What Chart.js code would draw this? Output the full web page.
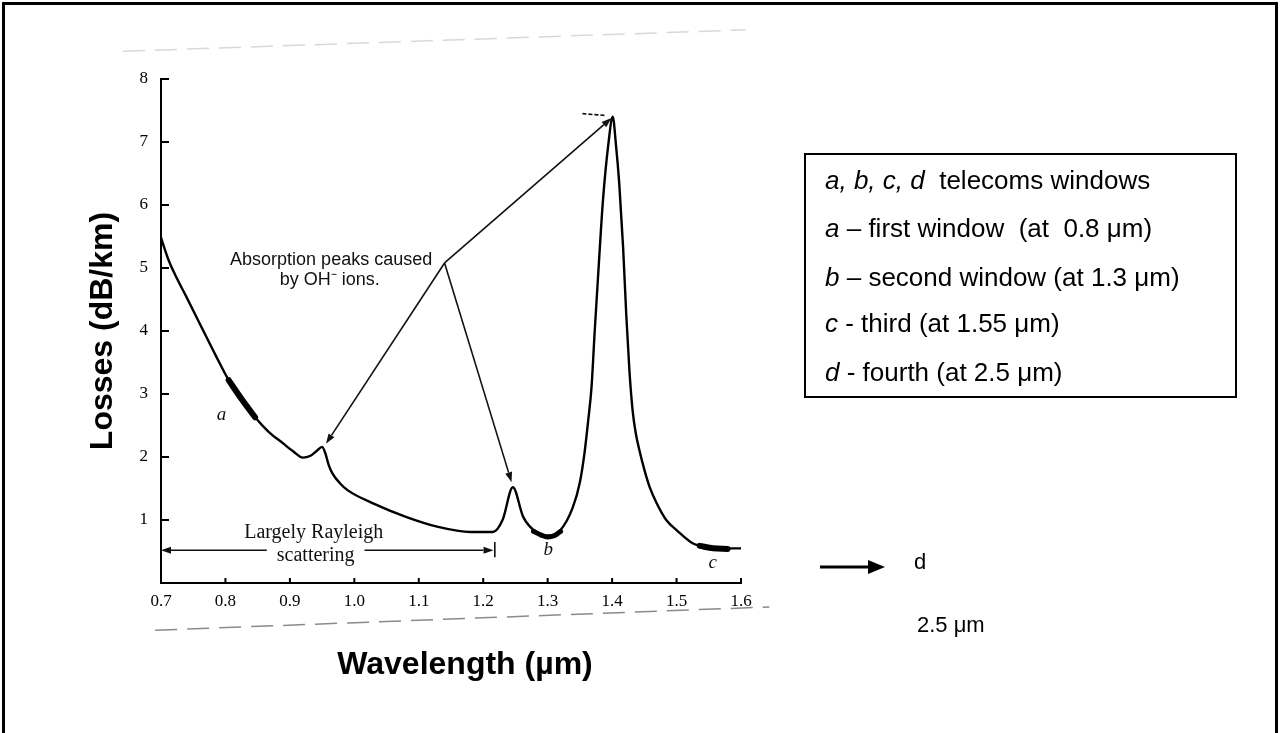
<!DOCTYPE html>
<html>
<head>
<meta charset="utf-8">
<script src="https://cdn.jsdelivr.net/npm/chart.js@4.4.1/dist/chart.umd.min.js"></script>
<style>
html,body{margin:0;padding:0;background:#fff;width:1280px;height:733px;overflow:hidden;}
#wrap{position:relative;width:1280px;height:733px;}
#frame{position:absolute;left:2px;top:2px;width:1270px;height:780px;border:3px solid #000;pointer-events:none;}
#chart{position:absolute;left:0;top:0;}
.legend{position:absolute;left:804px;top:153px;width:429px;height:241px;border:2px solid #000;font-family:"Liberation Sans",Arial,sans-serif;font-size:26px;color:#000;}
.legend div{position:absolute;left:19px;white-space:pre;line-height:30px;}
.note{position:absolute;font-family:"Liberation Sans",Arial,sans-serif;font-size:22px;color:#000;white-space:pre;line-height:26px;}
#arrowd{position:absolute;left:818px;top:557px;}
</style>
</head>
<body>
<div id="wrap">
  <canvas id="chart" width="1280" height="733"></canvas>
  <div class="legend">
    <div style="top:10px"><i>a, b, c, d</i>  telecoms windows</div>
    <div style="top:58px"><i>a</i> – first window  (at  0.8 μm)</div>
    <div style="top:107px"><i>b</i> – second window (at 1.3 μm)</div>
    <div style="top:153px"><i>c</i> - third (at 1.55 μm)</div>
    <div style="top:202px"><i>d</i> - fourth (at 2.5 μm)</div>
  </div>
  <svg id="arrowd" width="70" height="20" viewBox="0 0 70 20">
    <line x1="2" y1="10" x2="54" y2="10" stroke="#000" stroke-width="3"/>
    <polygon points="50,3 67,10 50,17" fill="#000"/>
  </svg>
  <div class="note" style="left:914px;top:549px;">d</div>
  <div class="note" style="left:917px;top:612px;">2.5 μm</div>
  <div id="frame"></div>
</div>
<script>
// ---- data ----
const wavelength = [0.700,0.712,0.725,0.740,0.760,0.786,0.805,0.825,0.846,0.867,0.889,0.905,0.920,0.932,0.942,0.950,0.955,0.960,0.966,0.978,0.990,1.030,1.080,1.130,1.180,1.215,1.230,1.246,1.262,1.283,1.300,1.319,1.339,1.350,1.357,1.363,1.368,1.373,1.379,1.386,1.394,1.401,1.406,1.411,1.417,1.422,1.427,1.432,1.437,1.443,1.450,1.458,1.469,1.484,1.500,1.525,1.545,1.567,1.603];
const losses     = [5.48, 5.12, 4.83, 4.53, 4.12, 3.59, 3.22, 2.92, 2.63, 2.40, 2.22, 2.09, 1.99, 2.02, 2.10, 2.16, 2.06, 1.88, 1.74, 1.58, 1.47, 1.26, 1.05, 0.89, 0.81, 0.81, 1.00, 1.52, 1.05, 0.80, 0.75, 0.83, 1.20, 1.60, 2.05, 2.59, 3.10, 4.00, 5.00, 6.10, 6.95, 7.40, 6.95, 6.35, 5.34, 4.25, 3.35, 2.72, 2.36, 2.08, 1.80, 1.53, 1.27, 1.00, 0.84, 0.63, 0.57, 0.55, 0.55];

const windowA_x = [0.805, 0.825, 0.846];
const windowA_y = [3.22, 2.92, 2.63];
const windowB_x = [1.278, 1.290, 1.300, 1.310, 1.320];
const windowB_y = [0.82, 0.76, 0.73, 0.75, 0.82];
const windowC_x = [1.536, 1.557, 1.579];
const windowC_y = [0.59, 0.55, 0.54];

const xTicks = [0.7,0.8,0.9,1.0,1.1,1.2,1.3,1.4,1.5,1.6];
const yTicks = [1,2,3,4,5,6,7,8];

// annotation anchors (data coordinates)
const ohSource = [1.140, 5.08];
const ohTargetX = [0.956, 1.399, 1.244];
const ohTargetY = [2.21, 7.38, 1.60];
const rayleighFrom = 0.700, rayleighTo = 1.216, rayleighLevel = 0.52;
const windowLabels = ['a','b','c'];
const windowLabelX = [0.794, 1.301, 1.556];
const windowLabelY = [2.67, 0.52, 0.32];
const xTitle = 'Wavelength (µm)';

const pts = (xs, ys) => xs.map((v, i) => ({x: v, y: ys[i]}));

function drawArrow(ctx, x1, y1, x2, y2, head, half) {
  const a = Math.atan2(y2 - y1, x2 - x1);
  const bx = x2 - head * Math.cos(a), by = y2 - head * Math.sin(a);
  ctx.beginPath(); ctx.moveTo(x1, y1); ctx.lineTo(bx, by); ctx.stroke();
  ctx.beginPath();
  ctx.moveTo(x2, y2);
  ctx.lineTo(bx + half * Math.sin(a), by - half * Math.cos(a));
  ctx.lineTo(bx - half * Math.sin(a), by + half * Math.cos(a));
  ctx.closePath(); ctx.fill();
}

const annotations = {
  id: 'annotations',
  afterDraw(chart) {
    const {ctx, chartArea: ca, scales: {x, y}} = chart;
    const X = v => x.getPixelForValue(v), Y = v => y.getPixelForValue(v);
    ctx.save();
    ctx.strokeStyle = '#000'; ctx.fillStyle = '#111'; ctx.lineWidth = 2;
    // inward tick marks
    ctx.beginPath();
    yTicks.forEach(v => { ctx.moveTo(ca.left, Y(v)); ctx.lineTo(ca.left + 8, Y(v)); });
    xTicks.slice(1).forEach(v => { ctx.moveTo(X(v), ca.bottom); ctx.lineTo(X(v), ca.bottom - 5); });
    ctx.stroke();

    // OH- arrows
    ctx.strokeStyle = '#111'; ctx.lineWidth = 1.6;
    ohTargetX.forEach((tx, i) => drawArrow(ctx, X(ohSource[0]), Y(ohSource[1]), X(tx), Y(ohTargetY[i]), 10, 3.5));
    // small dash near the main peak
    ctx.setLineDash([4, 2]);
    ctx.beginPath(); ctx.moveTo(X(1.354), Y(7.45)); ctx.lineTo(X(1.391), Y(7.42)); ctx.stroke();
    ctx.setLineDash([]);

    ctx.textAlign = 'center'; ctx.textBaseline = 'middle';
    ctx.font = '18px "Liberation Sans", Arial, sans-serif';
    ctx.fillText('Absorption peaks caused', X(0.964), Y(5.13));
    ctx.fillText('by OH\u207B ions.', X(0.962), Y(4.81));

    // Rayleigh double arrow
    const ry = Y(rayleighLevel);
    drawArrow(ctx, X(0.94), ry, X(rayleighFrom), ry, 10, 3.5);
    drawArrow(ctx, X(0.94), ry, X(rayleighTo), ry, 10, 3.5);
    ctx.beginPath(); ctx.moveTo(X(1.218), Y(0.41)); ctx.lineTo(X(1.218), Y(0.65)); ctx.stroke();
    ctx.font = '20px "Liberation Serif", "Times New Roman", serif';
    const sw = ctx.measureText('scattering').width;
    ctx.fillStyle = '#fff';
    ctx.fillRect(X(0.940) - sw / 2 - 10, Y(0.44) - 12, sw + 20, 24);
    ctx.fillStyle = '#111';
    ctx.fillText('Largely Rayleigh', X(0.937), Y(0.79));
    ctx.fillText('scattering', X(0.940), Y(0.44));

    // window labels
    ctx.font = 'italic 19px "Liberation Serif", "Times New Roman", serif';
    windowLabels.forEach((t, i) => ctx.fillText(t, X(windowLabelX[i]), Y(windowLabelY[i])));

    // x-axis title
    ctx.fillStyle = '#000';
    ctx.font = 'bold 32px "Liberation Sans", Arial, sans-serif';
    ctx.fillText(xTitle, (ca.left + ca.right) / 2 + 14, ca.bottom + 82);

    // faint scan lines
    ctx.lineWidth = 1.5; ctx.setLineDash([22, 10]);
    ctx.strokeStyle = '#d8d8d8';
    ctx.beginPath(); ctx.moveTo(X(0.641), Y(8.44)); ctx.lineTo(X(1.607), Y(8.78)); ctx.stroke();
    ctx.strokeStyle = '#8a8a8a';
    ctx.beginPath(); ctx.moveTo(X(0.691), Y(-0.75)); ctx.lineTo(X(1.644), Y(-0.38)); ctx.stroke();
    ctx.restore();
  }
};

const thick = (xs, ys, w) => ({
  data: pts(xs, ys), borderColor: '#000', borderWidth: w, pointRadius: 0,
  cubicInterpolationMode: 'monotone', borderCapStyle: 'round'
});

new Chart(document.getElementById('chart'), {
  type: 'line',
  data: {
    datasets: [
      { data: pts(wavelength, losses), borderColor: '#000', borderWidth: 2.4, pointRadius: 0,
        cubicInterpolationMode: 'monotone' },
      thick(windowA_x, windowA_y, 6),
      thick(windowB_x, windowB_y, 5),
      thick(windowC_x, windowC_y, 6)
    ]
  },
  options: {
    responsive: false, animation: false, devicePixelRatio: 1,
    events: [],
    layout: { padding: { left: 80, top: 79, right: 539, bottom: 40 } },
    plugins: { legend: { display: false }, tooltip: { enabled: false } },
    scales: {
      x: {
        type: 'linear', min: 0.7, max: 1.6,
        afterBuildTicks: s => { s.ticks = xTicks.map(v => ({ value: v })); },
        afterFit: s => { s.height = 110; },
        grid: { display: false, drawTicks: false },
        border: { display: true, color: '#000', width: 2 },
        ticks: { callback: v => Number(v).toFixed(1), autoSkip: false, maxRotation: 0, padding: 8,
                 color: '#000', font: { family: '"Liberation Serif", "Times New Roman", serif', size: 17 } },
        title: { display: false, text: xTitle }
      },
      y: {
        type: 'linear', min: 0, max: 8,
        afterBuildTicks: s => { s.ticks = [0].concat(yTicks).map(v => ({ value: v })); },
        afterFit: s => { s.width = 81; },
        grid: { display: false, drawTicks: false },
        border: { display: true, color: '#000', width: 2 },
        ticks: { callback: v => (v === 0 ? '' : String(v)), padding: 13,
                 color: '#000', font: { family: '"Liberation Serif", "Times New Roman", serif', size: 17 } },
        title: { display: true, text: 'Losses (dB/km)', color: '#000',
                 font: { family: '"Liberation Sans", Arial, sans-serif', size: 32, weight: 'bold' },
                 padding: { top: 4, bottom: 0 } }
      }
    }
  },
  plugins: [annotations]
});
</script>
</body>
</html>
